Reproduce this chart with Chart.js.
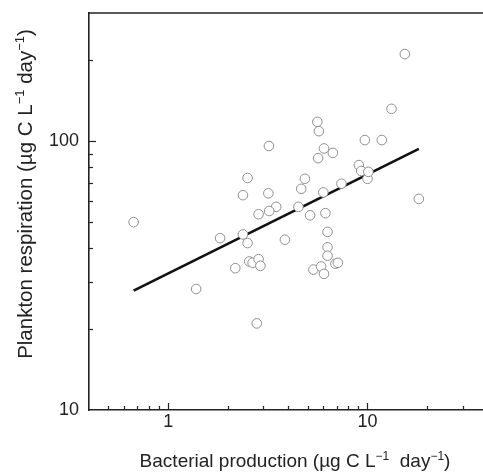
<!DOCTYPE html>
<html lang="en">
<head>
    <meta charset="UTF-8">
    <title>Plankton respiration vs bacterial production</title>
    <script src="https://cdn.jsdelivr.net/npm/chart.js"></script>
    <style>
        body { margin: 0; padding: 0; background: #fff; overflow: hidden; }
        #chart { display: block; }
    </style>
</head>
<body>

<canvas id="chart" width="483" height="474"></canvas>

<script>
    // Bacterial production (x) and plankton respiration (y)
    const production = [0.67, 15.4, 13.2, 5.6, 5.7, 3.2, 9.7, 11.8, 6.05, 6.7,
        5.65, 9.05, 9.3, 10.0, 10.1, 4.85, 7.4, 4.65, 6.0, 18.1,
        2.5, 2.37, 3.18, 3.48, 3.21, 2.84, 4.5, 5.15, 6.15, 6.3,
        6.3, 6.3, 6.9, 7.1, 5.35, 5.85, 6.05, 1.82, 2.37, 2.5,
        3.85, 2.55, 2.65, 2.84, 2.9, 2.17, 1.38, 2.78];
    const respiration = [50, 211, 132, 118, 109, 96, 101, 101, 94, 90.5,
        86.5, 81.5, 77.5, 72.5, 76.9, 72.5, 69.5, 66.5, 64.5, 61,
        73, 63, 64, 57, 55, 53.5, 57, 53, 54, 46,
        40.3, 37.5, 35, 35.3, 33.3, 34.2, 32.1, 43.6, 45, 41.8,
        43, 35.7, 35.3, 36.4, 34.4, 33.7, 28.2, 21];

    // regression line end points
    const fitX = [0.67, 18.1];
    const fitY = [27.8, 93.7];

    // axis ticks
    const xTicks = [0.5, 0.6, 0.7, 0.8, 0.9, 1, 2, 3, 4, 5, 6, 7, 8, 9, 10, 20, 30];
    const xLabels = [1, 10];
    const yTicks = [10, 20, 30, 40, 50, 60, 70, 80, 90, 100, 200];
    const yLabels = [10, 100];

    const xTitle = ['Bacterial production (µg C L', '−1', '  day', '−1', ')'];
    const yTitle = ['Plankton respiration (µg C L', '−1', ' day', '−1', ')'];

    const FONT = '"Liberation Sans", Arial, Helvetica, sans-serif';
    const INK = '#222';

    // inward tick marks, top frame line and axis titles with superscripts
    const decorations = {
        id: 'decorations',
        afterDraw(chart) {
            const ctx = chart.ctx;
            const area = chart.chartArea;
            const xs = chart.scales.x, ys = chart.scales.y;
            ctx.save();
            ctx.strokeStyle = INK;
            ctx.lineWidth = 1.2;
            xTicks.forEach(v => {
                const px = Math.round(xs.getPixelForValue(v)) + 0.5;
                const len = xLabels.includes(v) ? 7 : 4;
                ctx.beginPath();
                ctx.moveTo(px, area.bottom);
                ctx.lineTo(px, area.bottom - len);
                ctx.stroke();
            });
            yTicks.forEach(v => {
                if (v === 10) return;
                const py = Math.round(ys.getPixelForValue(v)) + 0.5;
                const len = yLabels.includes(v) ? 7 : 4;
                ctx.beginPath();
                ctx.moveTo(area.left, py);
                ctx.lineTo(area.left + len, py);
                ctx.stroke();
            });
            // top frame
            ctx.lineWidth = 1.6;
            ctx.beginPath();
            ctx.moveTo(area.left, area.top);
            ctx.lineTo(area.right, area.top);
            ctx.stroke();

            ctx.fillStyle = INK;
            drawTitle(ctx, xTitle, 295, 467, 0, 19);
            drawTitle(ctx, yTitle, 32, 194, -Math.PI / 2, 20.5);
            ctx.restore();
        }
    };

    function drawTitle(ctx, parts, cx, baseY, rot, size) {
        const main = size + 'px ' + FONT, sup = Math.round(size * 0.63) + 'px ' + FONT;
        const rise = size * 0.37;
        let total = 0;
        parts.forEach((p, i) => {
            ctx.font = i % 2 ? sup : main;
            total += ctx.measureText(p).width;
        });
        ctx.save();
        ctx.translate(cx, baseY);
        ctx.rotate(rot);
        ctx.textBaseline = 'alphabetic';
        ctx.textAlign = 'left';
        let x = -total / 2;
        parts.forEach((p, i) => {
            ctx.font = i % 2 ? sup : main;
            ctx.fillText(p, x, i % 2 ? -rise : 0);
            x += ctx.measureText(p).width;
        });
        ctx.restore();
    }

    const noPad = s => { s.paddingLeft = 0; s.paddingRight = 0; s.paddingTop = 0; s.paddingBottom = 0; };

    const ctx = document.getElementById('chart').getContext('2d');
    const chart = new Chart(ctx, {
        data: {
            datasets: [{
                type: 'scatter',
                data: production.map((v, i) => ({x: v, y: respiration[i]})),
                pointRadius: 4.8,
                pointBorderWidth: 1,
                pointBorderColor: '#8f8f8f',
                pointBackgroundColor: '#fff',
                order: 0
            }, {
                type: 'line',
                data: fitX.map((v, i) => ({x: v, y: fitY[i]})),
                borderColor: '#111',
                borderWidth: 2.6,
                pointRadius: 0,
                fill: false,
                order: 1
            }]
        },
        options: {
            responsive: false,
            animation: false,
            devicePixelRatio: 1,
            layout: { autoPadding: false, padding: { top: 13, left: 0, right: 0, bottom: 0 } },
            plugins: { legend: { display: false }, tooltip: { enabled: false } },
            scales: {
                x: {
                    type: 'logarithmic',
                    min: 0.4,
                    max: 38,
                    afterBuildTicks: s => { s.ticks = xTicks.map(v => ({value: v})); },
                    afterFit: s => { s.height = 64; noPad(s); },
                    grid: { display: false, drawTicks: false, tickLength: 0 },
                    border: { display: true, color: INK, width: 1.6 },
                    ticks: {
                        autoSkip: false,
                        maxRotation: 0,
                        padding: 1,
                        color: INK,
                        font: { family: FONT, size: 18, lineHeight: 1.2 },
                        callback: v => xLabels.includes(v) ? String(v) : ''
                    }
                },
                y: {
                    type: 'logarithmic',
                    min: 10,
                    max: 300,
                    afterBuildTicks: s => { s.ticks = yTicks.map(v => ({value: v})); },
                    afterFit: s => { s.width = 89; noPad(s); },
                    grid: { display: false, drawTicks: false, tickLength: 0 },
                    border: { display: true, color: INK, width: 1.6 },
                    ticks: {
                        autoSkip: false,
                        padding: 10,
                        color: INK,
                        font: { family: FONT, size: 18 },
                        callback: v => yLabels.includes(v) ? String(v) : ''
                    }
                }
            }
        },
        plugins: [decorations]
    });
</script>

</body>
</html>
